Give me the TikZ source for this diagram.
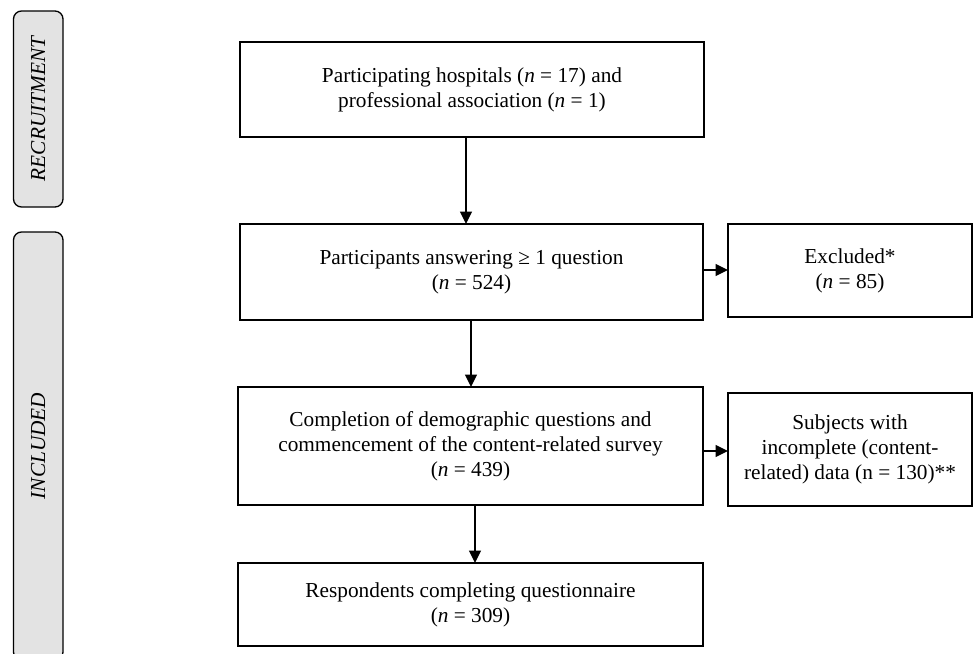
\documentclass[tikz,border=0pt]{standalone}
\usepackage{fontspec}
\setmainfont{Liberation Serif}
\usetikzlibrary{arrows.meta}
\begin{document}
\begin{tikzpicture}[x=1pt,y=-1pt,
  box/.style={draw=black, line width=1.3pt, align=center, inner sep=0pt, outer sep=0pt,
    font=\fontsize{21.3}{25}\selectfont},
  banner/.style={draw=black, line width=1.3pt, fill=bannergray, rounded corners=8pt,
    rotate=90, inner sep=0pt, outer sep=0pt, minimum height=49.5pt,
    font=\fontsize{21.3}{25}\selectfont\itshape},
  arr/.style={line width=1.5pt, -{Triangle[length=12.5pt,width=12pt]}}
]
\definecolor{bannergray}{HTML}{E3E3E3}
\useasboundingbox (0,0) rectangle (973,653);

\node[banner, minimum width=196pt] (rec) at (38.25,109) {RECRUITMENT};
\node[banner, minimum width=428pt] (inc) at (38.25,446) {INCLUDED};

\node[box, minimum width=464pt, minimum height=95pt] (b1) at (472,89.5)
  {Participating hospitals (\textit{n} = 17) and\\professional association (\textit{n} = 1)};
\node[box, minimum width=463pt, minimum height=96pt] (b2) at (471.5,272)
  {Participants answering ≥ 1 question\\(\textit{n} = 524)};
\node[box, minimum width=465pt, minimum height=118pt] (b3) at (470.5,446)
  {Completion of demographic questions and\\commencement of the content-related survey\\(\textit{n} = 439)};
\node[box, minimum width=465pt, minimum height=83pt] (b4) at (470.5,604.5)
  {Respondents completing questionnaire\\(\textit{n} = 309)};
\node[box, minimum width=244pt, minimum height=93pt] (ex) at (850,270.5)
  {Excluded*\\(\textit{n} = 85)};
\node[box, minimum width=244pt, minimum height=113pt] (sub) at (850,449.5)
  {Subjects with\\incomplete (content-\\related) data (n = 130)**};

\draw[arr] ([xshift=-6pt]b1.south) -- ([xshift=-6pt]b1.south |- b2.north);
\draw[arr] ([xshift=-0.5pt]b2.south) -- ([xshift=-0.5pt]b2.south |- b3.north);
\draw[arr] ([xshift=4.5pt]b3.south) -- ([xshift=4.5pt]b3.south |- b4.north);
\draw[arr] ([yshift=2pt]b2.east) -- ([yshift=2pt]b2.east -| ex.west);
\draw[arr] ([yshift=-5pt]b3.east) -- ([yshift=-5pt]b3.east -| sub.west);
\end{tikzpicture}
\end{document}
